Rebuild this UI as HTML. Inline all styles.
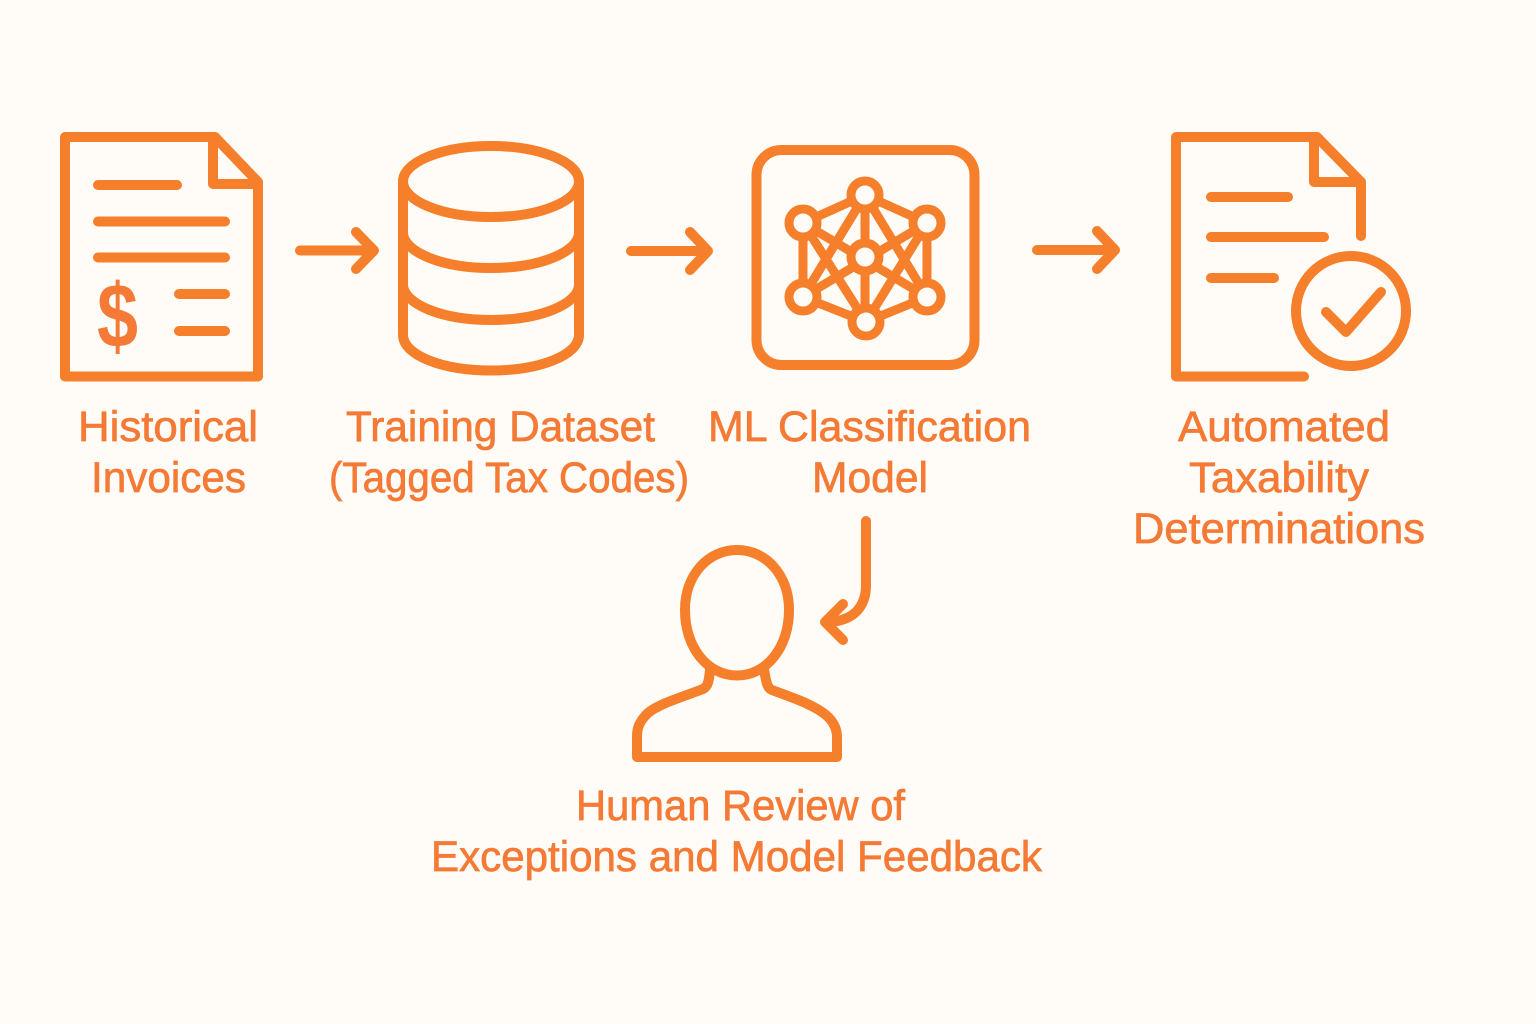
<!DOCTYPE html>
<html lang="en">
<head>
<meta charset="utf-8">
<title>Automated Taxability Pipeline</title>
<style>
html,body{margin:0;padding:0;background:#fffbf6;}
svg{display:block;}
text{font-family:"Liberation Sans",sans-serif;font-size:43px;fill:#f47a35;stroke:#f47a35;stroke-width:0.7;}
</style>
</head>
<body>
<svg width="1536" height="1024" viewBox="0 0 1536 1024" xmlns="http://www.w3.org/2000/svg">
<rect width="1536" height="1024" fill="#fffbf6"/>
<g fill="none" stroke="#f57f2b" stroke-width="10" stroke-linecap="round" stroke-linejoin="round">
  <!-- Invoice -->
  <path d="M65 137H215L258 182V376.500H65Z"/>
  <path d="M213 138V184H258"/>
  <path d="M98 185H177M98 221.500H225M98 257.500H225M179 294H225M179 331H225"/>
  <!-- Arrow 1 -->
  <path d="M300 250.500H373M356 232L374 250.500L356 269"/>
  <!-- Database -->
  <ellipse cx="491" cy="181.500" rx="88" ry="35.500"/>
  <path d="M403 181.500V335C403 355 442 370.500 491 370.500S579 355 579 335V181.500"/>
  <path d="M403 232.500C403 252 442 268 491 268S579 252 579 232.500"/>
  <path d="M403 284.500C403 304 442 320 491 320S579 304 579 284.500"/>
  <!-- Arrow 2 -->
  <path d="M631 251H706M690 232L708 251L690 270"/>
  <!-- Model -->
  <rect x="756.500" y="150" width="218" height="215" rx="25"/>
  <g stroke-width="9">
    <path d="M865 195L803 223V297L866 322L927 297V223ZM865 195V322M803 223L927 297M927 223L803 297M865 195L803 297M865 195L927 297M866 322L803 223M866 322L927 223"/>
  </g>
  <g stroke-width="9" fill="#fffbf6">
    <circle cx="865" cy="195" r="14"/>
    <circle cx="803" cy="223" r="14"/>
    <circle cx="927" cy="223" r="14"/>
    <circle cx="865" cy="257" r="14"/>
    <circle cx="803" cy="297" r="14"/>
    <circle cx="927" cy="297" r="14"/>
    <circle cx="866" cy="322" r="14"/>
  </g>
  <!-- Arrow 3 -->
  <path d="M1037 250H1113M1097 231L1115 250L1097 269"/>
  <!-- Determination document -->
  <path d="M1304 376.500H1176V137H1317L1361 182V236"/>
  <path d="M1314 138V182H1361"/>
  <path d="M1211 197H1288M1211 237H1324M1211 278H1274"/>
  <circle cx="1351" cy="311" r="55"/>
  <path d="M1326 312L1346 332L1381 292"/>
  <!-- Feedback arrow -->
  <path d="M866 521V585C866 608 852 622 826 622"/>
  <path d="M843 604L825 622L843 640"/>
  <!-- Person -->
  <path d="M737 550C766 550 789 575 789 610C789 648 766 675.500 737 675.500C708 675.500 685 648 685 610C685 575 708 550 737 550Z"/>
  <path d="M710 670C709 678 709 686 703 689C680 698 654 705 645 716C638 724 637 730 637 737V757H837V737C837 730 834 722 826 715C813 704 790 697 772 690C766 688 766 678 764 670"/>
</g>
<text x="97" y="347" textLength="41" lengthAdjust="spacingAndGlyphs" style="font-size:91px;font-weight:bold;stroke-width:0;">$</text>
<text x="78" y="441" textLength="180" lengthAdjust="spacingAndGlyphs">Historical</text>
<text x="91" y="492" textLength="155" lengthAdjust="spacingAndGlyphs">Invoices</text>
<text x="346" y="441" textLength="309" lengthAdjust="spacingAndGlyphs">Training Dataset</text>
<text x="329" y="492" textLength="360" lengthAdjust="spacingAndGlyphs">(Tagged Tax Codes)</text>
<text x="708" y="441" textLength="323" lengthAdjust="spacingAndGlyphs">ML Classification</text>
<text x="812" y="492" textLength="116" lengthAdjust="spacingAndGlyphs">Model</text>
<text x="1178" y="441" textLength="212" lengthAdjust="spacingAndGlyphs">Automated</text>
<text x="1189" y="492" textLength="180" lengthAdjust="spacingAndGlyphs">Taxability</text>
<text x="1133" y="543" textLength="292" lengthAdjust="spacingAndGlyphs">Determinations</text>
<text x="576" y="820" textLength="329" lengthAdjust="spacingAndGlyphs">Human Review of</text>
<text x="431" y="871" textLength="611" lengthAdjust="spacingAndGlyphs">Exceptions and Model Feedback</text>
</svg>
</body>
</html>
